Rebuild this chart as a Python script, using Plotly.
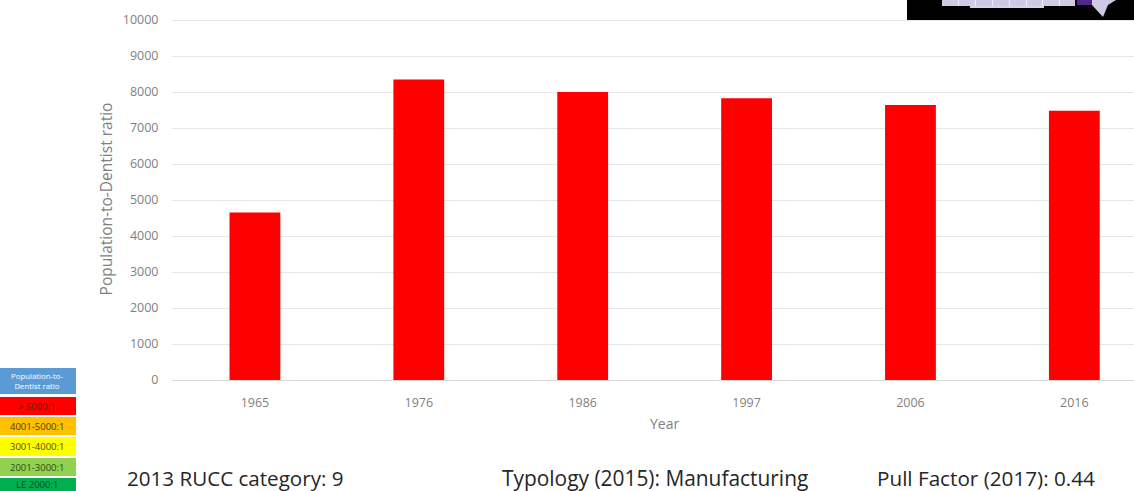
import plotly.graph_objects as go

years = ["1965", "1976", "1986", "1997", "2006", "2016"]
ratios = [4650, 8350, 8000, 7830, 7640, 7480]
y_ticks = list(range(0, 10001, 1000))
legend_labels = ["Population-to-<br>Dentist ratio", "> 5000:1", "4001-5000:1", "3001-4000:1", "2001-3000:1", "LE 2000:1"]
legend_colors = ["#5b9bd5", "#ff0000", "#ffc000", "#ffff00", "#92d050", "#00b050"]
legend_text = ["#ffffff", "#4d2600", "#4d3a00", "#4d4d00", "#2f4a10", "#00451f"]
legend_tops = [368, 397, 417, 437, 458, 478]
legend_bottoms = [394, 415, 435, 456, 476, 491]
legend_sizes = [7.8, 9.5, 9.5, 9.5, 9.5, 9.5]
footer = [("2013 RUCC category: 9", 127, 20.6), ("Typology (2015): Manufacturing", 502, 20.9), ("Pull Factor (2017): 0.44", 877, 20.7)]

W, H = 1134, 491
L, R, T, B = 172, 0, 18, 111
pw, ph = W - L - R, H - T - B
fx = lambda x: (x - L) / pw
fy = lambda y: (H - B - y) / ph

shapes, annos = [], []
def rect(x0, y0, x1, y1, color):
    shapes.append(dict(type="rect", xref="paper", yref="paper", x0=fx(x0), x1=fx(x1), y0=fy(y1), y1=fy(y0),
                       fillcolor=color, line=dict(width=0), layer="above"))

for lab, c, tc, t, b, s in zip(legend_labels, legend_colors, legend_text, legend_tops, legend_bottoms, legend_sizes):
    rect(0, t, 76, b, c)
    cy = min((t + b) / 2, 484)
    annos.append(dict(xref="paper", yref="paper", x=fx(37), y=fy(cy), text=lab, showarrow=False,
                      font=dict(size=s, color=tc, family="Open Sans"), xanchor="center", yanchor="middle"))

# inset map fragment
rect(907, 0, 1134, 20, "#000000")
rect(942, 0, 1075, 6, "#cfc9e6")
rect(970, 6, 1044, 8, "#d8d3ea")
for gx in [958, 975, 992, 1009, 1026, 1042, 1059]:
    rect(gx, 0, gx + 1, 6, "#eeeef6")
rect(1077, 0, 1092, 5, "#54278f")
shapes.append(dict(type="path", xref="paper", yref="paper", layer="above",
                   path="M %f %f L %f %f L %f %f L %f %f L %f %f Z" % (
                       fx(1092), fy(0), fx(1092), fy(5), fx(1103), fy(17), fx(1108), fy(5), fx(1116), fy(0)),
                   fillcolor="#cfc9e6", line=dict(width=0)))

for txt, x, s in footer:
    annos.append(dict(xref="paper", yref="paper", x=fx(x), y=fy(477.5), text=txt, showarrow=False,
                      xanchor="left", yanchor="middle", xshift=-2, font=dict(size=s, color="#262626", family="Open Sans")))

annos.append(dict(xref="paper", yref="paper", x=fx(664), y=fy(424), text="Year", showarrow=False,
                  xanchor="center", yanchor="middle", font=dict(size=14, color="#7f7f7f", family="Open Sans")))

fig = go.Figure(go.Bar(x=years, y=ratios, marker=dict(color="#ff0000", line=dict(width=0)), width=0.31))
fig.update_layout(
    width=W, height=H, autosize=False, margin=dict(l=L, r=R, t=T, b=B),
    paper_bgcolor="white", plot_bgcolor="white", showlegend=False, shapes=shapes, annotations=annos,
    font=dict(family="Open Sans", color="#7f7f7f", size=12),
    xaxis=dict(type="category", range=[-0.506, 5.364],
               showgrid=False, showline=True, linecolor="#d9d9d9", ticks="outside", ticklen=11, tickcolor="rgba(0,0,0,0)",
               tickfont=dict(size=12.5, color="#7f7f7f")),
    yaxis=dict(range=[0, 10056], tickvals=y_ticks, tickformat="d", title=dict(text="Population-to-Dentist ratio", font=dict(size=15.5, color="#7f7f7f"), standoff=6),
               gridcolor="#e6e6e6", gridwidth=1, zeroline=False, ticks="outside", ticklen=10, tickcolor="rgba(0,0,0,0)", tickfont=dict(size=12.5, color="#7f7f7f")),
)
fig.write_html("out.html", config=dict(displayModeBar=False), post_script="document.body.style.margin='0';")
